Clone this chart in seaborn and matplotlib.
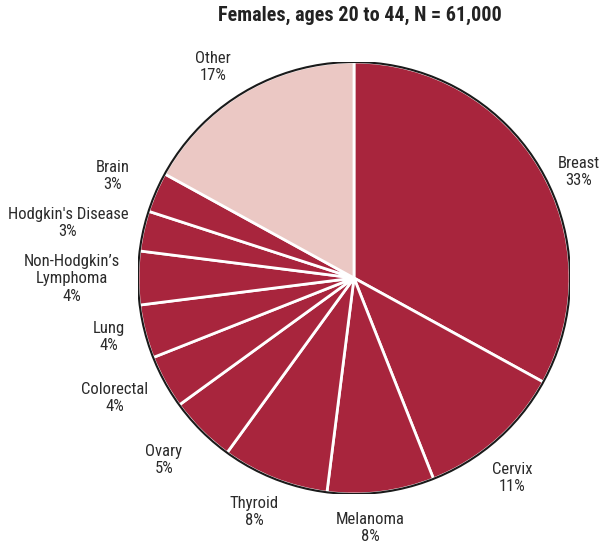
import matplotlib
matplotlib.use("Agg")
import matplotlib.pyplot as plt
import matplotlib.patches as mpatches
from matplotlib import font_manager
import seaborn as sns

# Cancer incidence shares, females aged 20 to 44
sites = ["Breast", "Cervix", "Melanoma", "Thyroid", "Ovary", "Colorectal",
         "Lung", "Non-Hodgkin\u2019s\nLymphoma", "Hodgkin's Disease", "Brain", "Other"]
shares = [33, 11, 8, 8, 5, 4, 4, 4, 3, 3, 17]
title = "Females, ages 20 to 44, N = 61,000"

# label anchor points (pixel coordinates of the text centre)
label_px = [(579, 172), (512, 478), (370, 528), (254, 512), (164, 460),
            (115, 398), (109, 337), (72, 279), (68, 223), (113, 176), (213, 67)]

sns.set_theme(style="white")
installed = {f.name for f in font_manager.fontManager.ttflist}
candidates = ["Roboto Condensed", "Liberation Sans Narrow", "PT Sans Narrow",
              "Archivo Narrow", "Fira Sans Condensed", "IBM Plex Sans Condensed",
              "Encode Sans Condensed", "DejaVu Sans"]
family = next(c for c in candidates if c in installed)
plt.rcParams["font.family"] = [family, "DejaVu Sans"]

W, H = 603, 546
cx, cy, R = 354, 278, 216
fig = plt.figure(figsize=(W / 100, H / 100), dpi=100)
ax = fig.add_axes([(cx - R) / W, (H - cy - R) / H, 2 * R / W, 2 * R / H])

dark = "#A8253D"
light = "#EBC8C4"
colors = [dark] * (len(shares) - 1) + [light]

ax.pie(shares, startangle=90, counterclock=False, colors=colors, radius=1,
       wedgeprops=dict(edgecolor="white", linewidth=2.0))
ax.add_patch(mpatches.Circle((0, 0), 1, fill=False, edgecolor="#1a1a1a", linewidth=1.5, zorder=5))
ax.set_xlim(-1, 1)
ax.set_ylim(-1, 1)
ax.set_aspect("auto")
ax.axis("off")

for name, val, (px, py) in zip(sites, shares, label_px):
    x = (px - cx) / R
    y = (cy - py) / R
    ax.text(x, y, f"{name}\n{val}%", ha="center", va="center", fontsize=12,
            color="#2b2b2b", linespacing=1.2, clip_on=False)

fig.text(359.5 / W, 1 - 21 / H, title, ha="center", va="baseline", fontsize=14.5,
         fontweight="bold", color="#222222")

fig.savefig("out.png", dpi=100)
